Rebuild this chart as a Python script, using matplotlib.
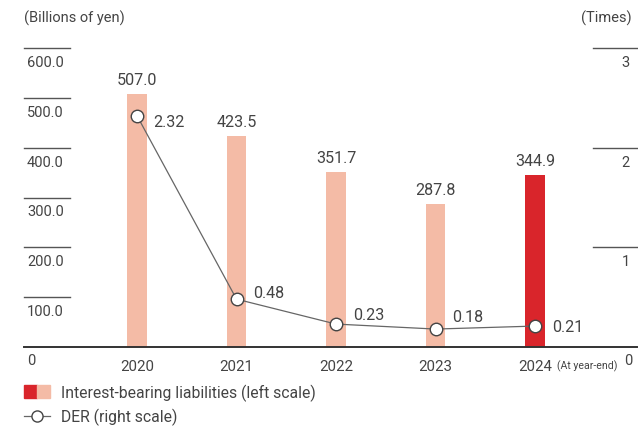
import matplotlib.pyplot as plt
from matplotlib.patches import Rectangle
from matplotlib.lines import Line2D

plt.rcParams['font.family'] = ['Roboto', 'DejaVu Sans']

years = ['2020', '2021', '2022', '2023', '2024']
liabilities = [507.0, 423.5, 351.7, 287.8, 344.9]
der = [2.32, 0.48, 0.23, 0.18, 0.21]
left_ticks = [100.0, 200.0, 300.0, 400.0, 500.0, 600.0]
right_ticks = [1, 2, 3]

PALE = '#f4bba6'
RED = '#d9252b'
TXT = '#444444'
GREY = '#666666'

W, H = 638, 427
fig = plt.figure(figsize=(W / 100, H / 100), dpi=100)

def px(x, y):
    return x / W, 1 - y / H

# axes spans the plot area: x 24..637 px, y 348 (0) .. 49 (600)
ax = fig.add_axes([24 / W, 1 - 348 / H, 613 / W, 299 / H])
ax.set_xlim(-1.136, 5.025)
ax.set_ylim(0, 600)
ax.axis('off')
ax2 = ax.twinx()
ax2.set_ylim(0, 3)
ax2.axis('off')

x = list(range(len(years)))
colors = [PALE] * (len(years) - 1) + [RED]
ax.bar(x, liabilities, width=0.2, color=colors, zorder=2)
for xi, v in zip(x, liabilities):
    ax.annotate(f'{v:.1f}', (xi, v), xytext=(0, 5), textcoords='offset points',
                ha='center', va='bottom', fontsize=11.6, color=TXT)

ax2.plot(x, der, color=GREY, lw=0.9, marker='o', ms=9, mfc='white',
         mec='#444444', mew=1.0, zorder=5)
der_offsets = [(-4), 5, 7, 9, 0]
for xi, v, dy in zip(x, der, der_offsets):
    ax2.annotate(f'{v:.2f}', (xi, v), xytext=(12, dy), textcoords='offset points',
                 ha='left', va='center', fontsize=11.6, color=TXT)

# baseline
ax.plot([0, 1], [0, 0], transform=ax.get_yaxis_transform(), color='#333333',
        lw=1.4, clip_on=False, zorder=3)

# left scale: short rules with labels beneath
for t in left_ticks:
    ax.plot([0, 46 / 613], [t, t], transform=ax.get_yaxis_transform(),
            color='#555555', lw=1.0, clip_on=False)
    ax.annotate(f'{t:.1f}', (3 / 613, t), xycoords=ax.get_yaxis_transform(),
                xytext=(0, -10), textcoords='offset points',
                ha='left', va='center', fontsize=10.5, color=TXT)
fig.text(*px(27, 361), '0', ha='left', va='center', fontsize=10.5, color=TXT)

# right scale
for t in right_ticks:
    ax2.plot([569 / 613, 1], [t, t], transform=ax2.get_yaxis_transform(),
             color='#555555', lw=1.0, clip_on=False)
    ax2.annotate(f'{t}', (606 / 613, t), xycoords=ax2.get_yaxis_transform(),
                 xytext=(0, -10), textcoords='offset points',
                 ha='right', va='center', fontsize=10.5, color=TXT)
fig.text(*px(632, 361), '0', ha='right', va='center', fontsize=10.5, color=TXT)

# year labels
for xi, yr in zip(x, years):
    ax.annotate(yr, (xi, 0), xytext=(0, -14), textcoords='offset points',
                ha='center', va='center', fontsize=10.8, color=TXT)
fig.text(*px(557, 366), '(At year-end)', ha='left', va='center',
         fontsize=7.6, color=TXT)

fig.text(*px(24, 18), '(Billions of yen)', ha='left', va='center',
         fontsize=10.5, color=TXT)
fig.text(*px(632, 18), '(Times)', ha='right', va='center',
         fontsize=10.5, color=TXT)

# legend
fig.patches.append(Rectangle(px(24, 399), 13 / W, 13 / H, color=RED,
                             transform=fig.transFigure))
fig.patches.append(Rectangle(px(37, 399), 13 / W, 13 / H, color=PALE,
                             transform=fig.transFigure))
fig.text(*px(61, 393), 'Interest-bearing liabilities (left scale)',
         ha='left', va='center', fontsize=11.3, color=TXT)
fig.lines.append(Line2D([24 / W, 50 / W], [1 - 417 / H] * 2, color=GREY,
                        lw=0.9, transform=fig.transFigure))
fig.lines.append(Line2D([37 / W], [1 - 417 / H], marker='o', ms=8,
                        mfc='white', mec='#444444', mew=1.0,
                        transform=fig.transFigure))
fig.text(*px(61, 417), 'DER (right scale)', ha='left', va='center',
         fontsize=11.3, color=TXT)

fig.savefig('out.png', dpi=100)
